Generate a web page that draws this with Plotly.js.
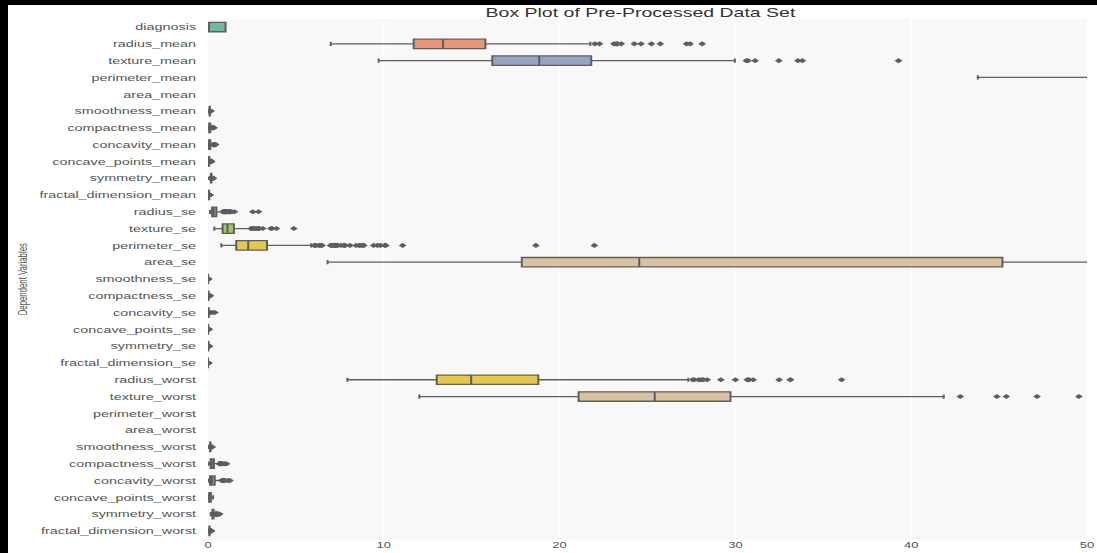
<!DOCTYPE html>
<html>
<head>
<meta charset="utf-8">
<script src="https://cdn.plot.ly/plotly-3.0.1.min.js"></script>
<style>
  html, body { margin: 0; padding: 0; background: #000; }
  #wrap { position: relative; width: 1097px; height: 553px; background: #000; overflow: hidden; }
  #chart { position: absolute; left: 8px; top: 5px; width: 1089px; height: 843px;
           transform: scaleY(0.65); transform-origin: 0 0; background: #fff; }
</style>
</head>
<body>
<div id="wrap"><div id="chart"></div></div>
<script>
// ---- data ----
var categories = ["diagnosis","radius_mean","texture_mean","perimeter_mean","area_mean","smoothness_mean",
  "compactness_mean","concavity_mean","concave_points_mean","symmetry_mean","fractal_dimension_mean",
  "radius_se","texture_se","perimeter_se","area_se","smoothness_se","compactness_se","concavity_se",
  "concave_points_se","symmetry_se","fractal_dimension_se","radius_worst","texture_worst","perimeter_worst",
  "area_worst","smoothness_worst","compactness_worst","concavity_worst","concave_points_worst",
  "symmetry_worst","fractal_dimension_worst"];

var lowerWhisker = [0, 6.981, 9.71, 43.79, 143.5, 0.06251, 0.01938, 0, 0, 0.1167, 0.04996,
  0.1115, 0.3602, 0.757, 6.802, 0.001713, 0.002252, 0, 0, 0.007882, 0.0008948,
  7.93, 12.02, 50.41, 185.2, 0.08125, 0.02729, 0, 0, 0.1565, 0.05504];
var q1 = [0, 11.70, 16.17, 75.17, 420.3, 0.08637, 0.06492, 0.02956, 0.02031, 0.1619, 0.0577,
  0.2324, 0.8339, 1.606, 17.85, 0.00517, 0.01308, 0.01509, 0.007638, 0.01516, 0.002248,
  13.01, 21.08, 84.11, 515.3, 0.1166, 0.1472, 0.1145, 0.06493, 0.2504, 0.07146];
var median = [0, 13.37, 18.84, 86.24, 551.1, 0.09587, 0.09263, 0.06154, 0.0335, 0.1792, 0.06154,
  0.3242, 1.108, 2.287, 24.53, 0.00638, 0.02045, 0.02589, 0.01093, 0.01873, 0.003187,
  14.97, 25.41, 97.66, 686.5, 0.1313, 0.2119, 0.2267, 0.09993, 0.2822, 0.08004];
var q3 = [1, 15.78, 21.80, 104.1, 782.7, 0.1053, 0.1304, 0.1307, 0.074, 0.1957, 0.06612,
  0.4789, 1.474, 3.357, 45.19, 0.00815, 0.03245, 0.04205, 0.01471, 0.02348, 0.004558,
  18.79, 29.72, 125.4, 1084, 0.146, 0.3391, 0.3829, 0.1614, 0.3179, 0.09208];
var upperWhisker = [1, 21.75, 29.97, 147.3, 1326, 0.1326, 0.2284, 0.2810, 0.1545, 0.2459, 0.07871,
  0.8361, 2.426, 5.865, 86.2, 0.01262, 0.06158, 0.08232, 0.02536, 0.03546, 0.008015,
  27.32, 41.85, 187.3, 1937, 0.1883, 0.6247, 0.7727, 0.291, 0.4152, 0.1224];

var outliers = [
  [],
  [22.01, 22.27, 23.09, 23.21, 23.27, 23.29, 23.51, 24.25, 24.63, 25.22, 25.73, 27.22, 27.42, 28.11],
  [30.62, 30.72, 31.12, 32.47, 33.56, 33.81, 39.28],
  [],
  [],
  [0.05263, 0.1371, 0.1398, 0.1425, 0.1447, 0.1634],
  [0.2293, 0.2396, 0.2413, 0.2576, 0.2665, 0.2768, 0.2776, 0.2832, 0.2839, 0.2867, 0.3114, 0.3454],
  [0.2871, 0.3001, 0.3003, 0.3130, 0.3176, 0.3189, 0.3201, 0.3368, 0.3514, 0.3523, 0.3635, 0.3754, 0.4108, 0.4264, 0.4268],
  [0.1562, 0.1595, 0.1604, 0.1620, 0.1689, 0.1823, 0.1845, 0.1878, 0.1913, 0.2012],
  [0.106, 0.2495, 0.2521, 0.2556, 0.2569, 0.2595, 0.2655, 0.2678, 0.2743, 0.2906, 0.304],
  [0.0795, 0.08046, 0.08142, 0.08243, 0.0845, 0.08743, 0.0898, 0.09296, 0.09575, 0.09744],
  [0.8601, 0.8705, 0.8811, 0.8973, 0.9029, 0.9289, 0.9317, 0.9553, 0.9622, 0.9806, 0.9915, 1.0, 1.009, 1.046,
   1.058, 1.072, 1.088, 1.111, 1.167, 1.17, 1.207, 1.214, 1.222, 1.264, 1.291, 1.296, 1.37, 1.509, 2.547, 2.873],
  [2.454, 2.509, 2.612, 2.635, 2.664, 2.777, 2.836, 2.878, 2.904, 2.91, 3.12, 3.568, 3.647, 3.896, 4.885],
  [6.051, 6.076, 6.146, 6.311, 6.372, 6.462, 6.487, 6.971, 7.029, 7.049, 7.158, 7.22, 7.237, 7.276, 7.337,
   7.382, 7.561, 7.733, 7.749, 7.804, 8.077, 8.419, 8.589, 8.649, 8.758, 8.83, 8.867, 9.424, 9.635, 9.807,
   10.05, 10.12, 11.07, 18.65, 21.98],
  [],
  [0.01289, 0.0134, 0.01418, 0.01546, 0.01721, 0.02075, 0.02177, 0.02333, 0.03113],
  [0.06213, 0.06457, 0.06669, 0.07025, 0.07217, 0.07446, 0.08297, 0.08668, 0.09368, 0.09586, 0.1006, 0.1064, 0.1354],
  [0.08387, 0.0888, 0.09263, 0.09518, 0.104, 0.1091, 0.1197, 0.1278, 0.1438, 0.1535, 0.3038, 0.396],
  [0.02593, 0.02624, 0.02765, 0.02853, 0.03024, 0.03441, 0.03487, 0.0409, 0.05279],
  [0.03672, 0.0371, 0.03997, 0.04183, 0.04547, 0.05014, 0.05543, 0.05628, 0.06146, 0.07895],
  [0.008133, 0.008675, 0.009208, 0.01008, 0.01178, 0.01256, 0.01298, 0.01792, 0.02193, 0.02984],
  [27.57, 27.66, 27.9, 28.01, 28.11, 28.19, 28.4, 29.17, 30.0, 30.67, 30.75, 30.79, 31.01, 32.49, 33.12, 33.13, 36.04],
  [42.79, 44.87, 45.41, 47.16, 49.54],
  [],
  [],
  [0.07117, 0.1909, 0.1927, 0.2006, 0.2098, 0.2184, 0.2226],
  [0.6577, 0.659, 0.6643, 0.6656, 0.709, 0.7394, 0.7444, 0.7584, 0.7725, 0.7917, 0.8663, 0.9327, 0.9379, 1.058],
  [0.7892, 0.8216, 0.8402, 0.8488, 0.9019, 0.9034, 0.9387, 0.9608, 1.105, 1.17, 1.252],
  [],
  [0.4228, 0.4245, 0.427, 0.4366, 0.4432, 0.4489, 0.4677, 0.4724, 0.4753, 0.4863, 0.4882, 0.5166, 0.544, 0.5558, 0.5774, 0.6638],
  [0.1233, 0.1249, 0.1297, 0.1339, 0.1364, 0.1403, 0.1431, 0.1446, 0.1486, 0.1732, 0.2075]
];

var xTicks = [0, 10, 20, 30, 40, 50];
var palette = ["#72b7a1", "#e99575", "#95a3c3", "#db96c0", "#a2c864", "#e5c849", "#dbc29e", "#b3b3b3"];

// ---- build traces ----
var lineColor = "#5e5e5e";
var traces = [];
for (var i = 0; i < categories.length; i++) {
  traces.push({
    type: "box",
    orientation: "h",
    name: categories[i],
    y: [categories[i]],
    q1: [q1[i]], median: [median[i]], q3: [q3[i]],
    lowerfence: [lowerWhisker[i]], upperfence: [upperWhisker[i]],
    boxpoints: false,
    fillcolor: palette[i % palette.length],
    line: { color: lineColor, width: 2 },
    whiskerwidth: 0.45,
    showlegend: false,
    hoverinfo: "skip"
  });
}
var ox = [], oy = [];
for (var j = 0; j < categories.length; j++) {
  for (var k = 0; k < outliers[j].length; k++) { ox.push(outliers[j][k]); oy.push(categories[j]); }
}
traces.push({
  type: "scatter", mode: "markers", x: ox, y: oy,
  marker: { symbol: "diamond", size: 6, color: lineColor, line: { width: 0 } },
  showlegend: false, hoverinfo: "skip", cliponaxis: true
});

var textColor = "#555555";
var layout = {
  width: 1089, height: 843,
  margin: { l: 200, r: 10, t: 21, b: 21, pad: 0 },
  paper_bgcolor: "#ffffff",
  plot_bgcolor: "#f8f8f8",
  boxmode: "overlay",
  boxgap: 0.2,
  showlegend: false,
  hovermode: false,
  font: { family: "Liberation Sans, Arial, sans-serif", color: textColor },
  title: {
    text: "Box Plot of Pre-Processed Data Set",
    font: { family: "Liberation Sans, Arial, sans-serif", size: 19.5, color: "#333333" },
    xref: "paper", x: 0.492, xanchor: "center",
    yref: "container", y: 0.987, yanchor: "middle"
  },
  xaxis: {
    range: [0, 50], tickvals: xTicks, ticktext: xTicks.map(String),
    showgrid: true, gridcolor: "#ffffff", gridwidth: 1.5,
    zeroline: false, showline: false, ticks: "",
    tickfont: { size: 13, color: textColor }
  },
  yaxis: {
    type: "category", categoryorder: "array", categoryarray: categories,
    range: [categories.length - 0.5, -0.5],
    showgrid: false, zeroline: false, showline: false,
    ticks: "outside", ticklen: 8, tickcolor: "rgba(0,0,0,0)",
    tickfont: { size: 14.4, color: textColor }
  },
  annotations: [{
    text: "Dependent Variables", textangle: -90, showarrow: false,
    xref: "paper", yref: "paper", x: -0.2105, y: 0.5, xanchor: "center", yanchor: "middle",
    font: { size: 12, color: textColor }
  }]
};

Plotly.newPlot("chart", traces, layout, { displayModeBar: false, staticPlot: true });
</script>
</body>
</html>
